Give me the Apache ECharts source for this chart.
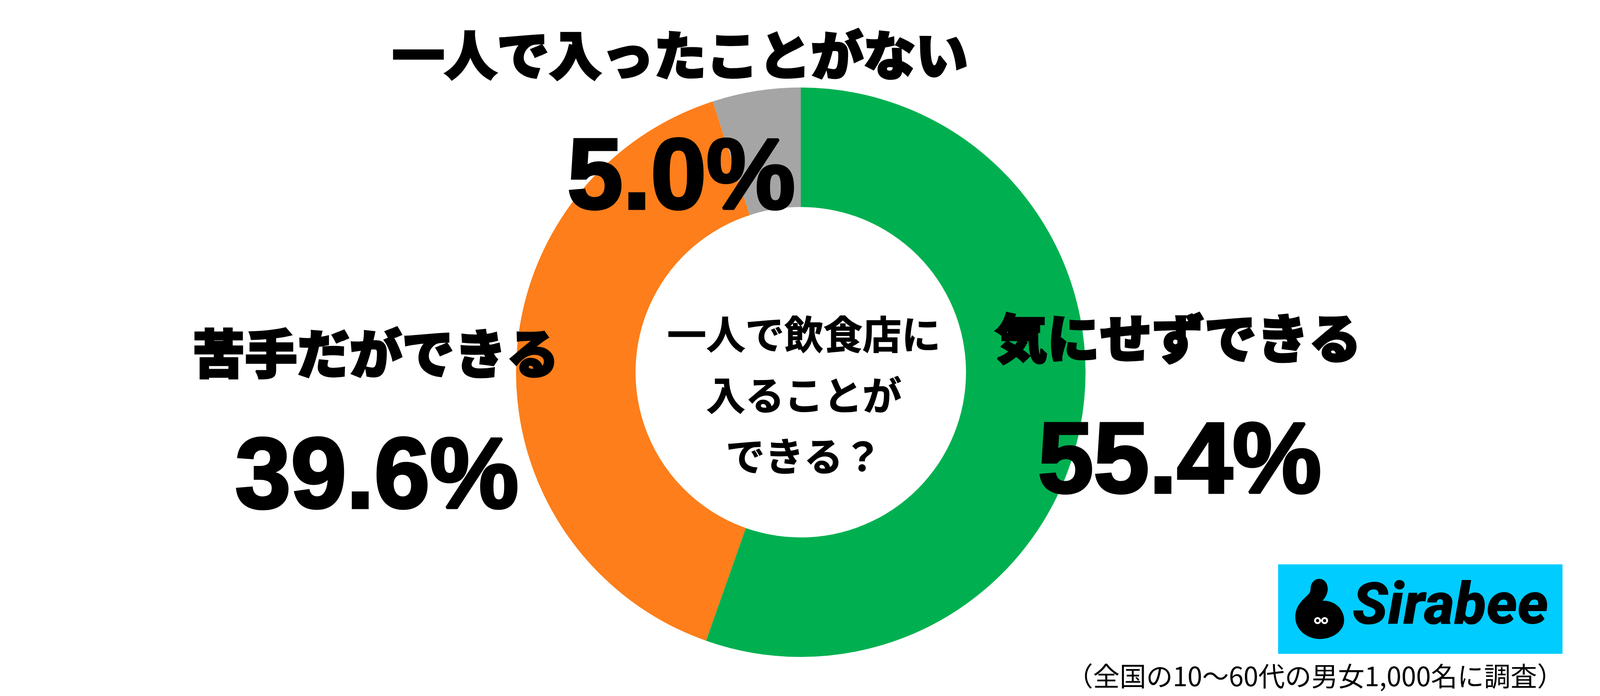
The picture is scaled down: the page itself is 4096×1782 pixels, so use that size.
<!DOCTYPE html>
<html>
<head>
<meta charset="utf-8">
<style>
html,body{margin:0;padding:0;background:#fff;}
#chart{width:4096px;height:1782px;}
</style>
<script src="https://cdn.jsdelivr.net/npm/echarts@6/dist/echarts.min.js"></script>
</head>
<body>
<div id="chart"></div>
<script>
const categories = ['気にせずできる', '苦手だができる', '一人で入ったことがない'];
const values = [55.4, 39.6, 5.0];
const question = ['一人で飲食店に', '入ることが', 'できる？'];
const footnote = '（全国の10〜60代の男女1,000名に調査）';
const brand = 'Sirabee';

const colors = ['#00B050', '#FD7E1A', '#A5A5A5'];
const jp = '"Noto Sans CJK JP", "Noto Sans CJK SC", sans-serif';
const num = '"Liberation Sans", Arial, sans-serif';

const chart = echarts.init(document.getElementById('chart'), null, {renderer: 'canvas', width: 4096, height: 1782});

const labelPos = [
  {name: [3016, 866], val: [3020, 1190]},
  {name: [962, 905], val: [965, 1229]},
  {name: [1741, 141], val: [1744, 463]}
];

const graphics = [];
categories.forEach((c, i) => {
  graphics.push({
    type: 'text', x: labelPos[i].name[0], y: labelPos[i].name[1], z: 10,
    style: {text: c, fill: '#000', fontFamily: jp, fontWeight: 900, fontSize: 134,
      textAlign: 'center', textVerticalAlign: 'middle', stroke: '#000', lineWidth: 5}
  });
  graphics.push({
    type: 'text', x: labelPos[i].val[0], y: labelPos[i].val[1], z: 10,
    style: {text: values[i].toFixed(1) + '%', fill: '#000', fontFamily: num, fontWeight: 'bold', fontSize: 256,
      textAlign: 'center', textVerticalAlign: 'middle', stroke: '#000', lineWidth: 7}
  });
});
question.forEach((q, i) => {
  graphics.push({
    type: 'text', x: 2058, y: 856 + i * 156, z: 10,
    style: {text: q, fill: '#000', fontFamily: jp, fontWeight: 'bold', fontSize: 100,
      textAlign: 'center', textVerticalAlign: 'middle', stroke: '#000', lineWidth: 1.5}
  });
});
graphics.push({type: 'rect', shape: {x: 3272, y: 1445, width: 728, height: 229}, style: {fill: '#00CCFF'}, z: 5});
[[3373, 1589], [3391, 1589]].forEach(p => {
  graphics.push({type: 'circle', z: 7, shape: {cx: p[0], cy: p[1], r: 9}, style: {fill: '#fff'}});
  graphics.push({type: 'circle', z: 8, shape: {cx: p[0], cy: p[1], r: 4}, style: {fill: '#000'}});
});
graphics.push({
  type: 'text', x: 3462, y: 1634, z: 7,
  style: {text: brand, fill: '#000', fontFamily: 'Roboto, "Liberation Sans", sans-serif', fontWeight: 900, fontStyle: 'italic', fontSize: 150,
    textAlign: 'left', textVerticalAlign: 'bottom'}
});
graphics.push({
  type: 'text', x: 4003, y: 1731, z: 7,
  style: {text: footnote, fill: '#000', fontFamily: jp, fontWeight: 'normal', fontSize: 68,
    textAlign: 'right', textVerticalAlign: 'middle'}
});

const blobPath = 'M3377 1482 C3391 1482 3399 1494 3399 1508 C3399 1527 3384 1540 3372 1553 C3366 1561 3361 1567 3355 1566 C3350 1565 3350 1558 3353 1553 C3360 1545 3372 1538 3388 1538 C3420 1538 3441 1562 3441 1588 C3441 1615 3412 1636 3379 1636 C3345 1636 3316 1612 3316 1580 C3316 1555 3330 1540 3344 1527 C3352 1520 3355 1516 3355 1508 C3355 1494 3364 1482 3377 1482 Z';

chart.setOption({
  backgroundColor: '#fff',
  animation: false,
  series: [{
    type: 'pie',
    center: [2050, 953],
    radius: [423, 729],
    startAngle: 90,
    clockwise: true,
    silent: true,
    label: {show: false},
    labelLine: {show: false},
    itemStyle: {borderWidth: 0},
    data: categories.map((c, i) => ({name: c, value: values[i], itemStyle: {color: colors[i]}}))
  }, {
    type: 'custom',
    coordinateSystem: 'none',
    silent: true,
    z: 6,
    data: [0],
    renderItem: function () {
      return {type: 'path', z2: 1, shape: {pathData: blobPath}, style: {fill: '#000'}};
    }
  }],
  graphic: graphics
});
</script>
</body>
</html>
